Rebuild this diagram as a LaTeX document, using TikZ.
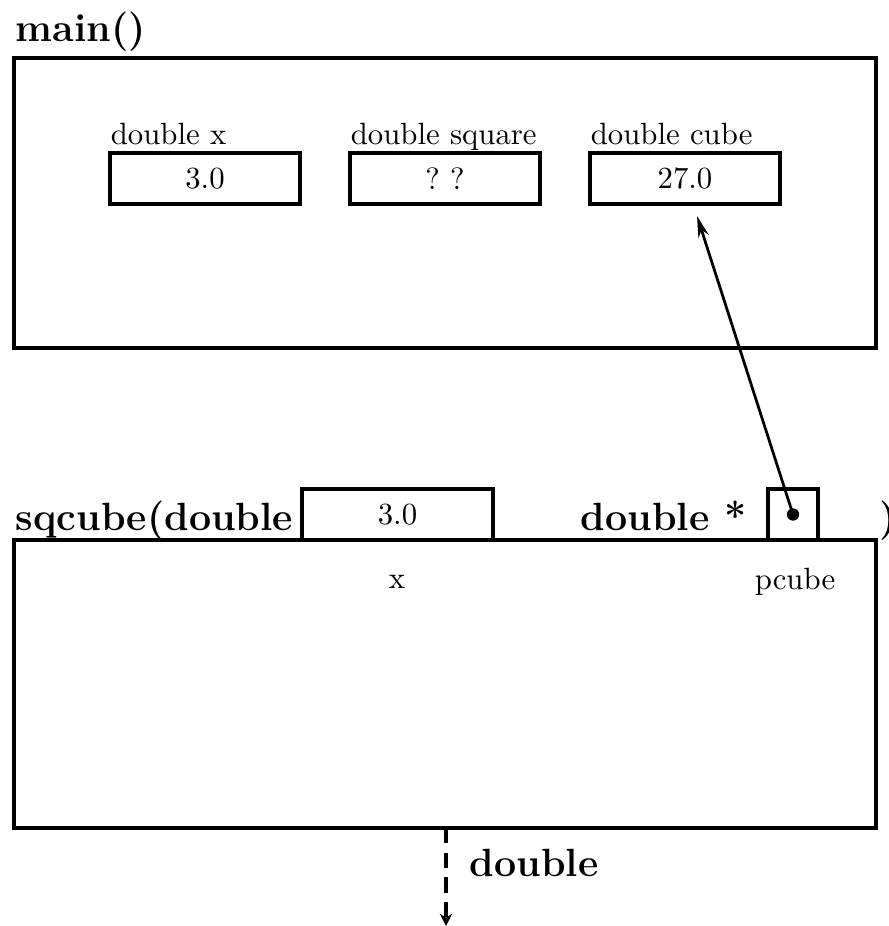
\documentclass[tikz,border=0pt]{standalone}
\usepackage{tikz}
\usetikzlibrary{arrows.meta}

\begin{document}
\begin{tikzpicture}[x=0.325pt, y=-0.325pt, line width=1.25pt,
    varbox/.style={draw, minimum width=62pt, minimum height=16.5pt, inner sep=0pt},
    ptrbox/.style={draw, minimum width=16pt, minimum height=16.5pt, inner sep=0pt},
    title/.style={font=\fontsize{12.8}{15}\selectfont\bfseries, anchor=base west, inner sep=0pt},
    vname/.style={anchor=base west, inner sep=0pt}] %%%{{{
	 \useasboundingbox (0,0) rectangle (888,926);
	 % the two frames
	 \coordinate (M1) at (14,58);
	 \coordinate (M2) at (876,348);
	 \coordinate (S1) at (14,540);
	 \coordinate (S2) at (876,828);
	 \draw (M1) rectangle (M2);
	 \draw (S1) rectangle (S2);
	 \node[title] (main) at (14,42) {main()};
	 % variables of main
	 \node[varbox] (x) at (205,178.5) {3.0};
	 \node[varbox] (square) at (445,178.5) {?\ ?};
	 \node[varbox] (cube) at (685,178.5) {27.0};
	 \foreach \v/\t in {x/double x, square/double square, cube/double cube}
	    \node[vname] (l\v) at ([shift={(0.4pt,2.2pt)}]\v.north west) {\t};
	 % call of sqcube
	 \node[title] (sq) at (14,530) {sqcube(double};
	 \node[varbox] (px) at (397.5,514.5) {3.0};
	 \node[title] (dstar) at (579,530) {double *};
	 \node[ptrbox] (pcube) at (793,514.5) {};
	 \node[title] (close) at (878,530) {)};
	 \node (nx) at (397,582) {x};
	 \node (npc) at (795,582) {pcube};
	 \fill (pcube.center) circle (2pt);
	 % pointer back to cube
	 \coordinate (tip) at (697,216);
	 \draw[-{Stealth[length=7pt, width=3.5pt]}, line width=0.9pt] (pcube.center) -- (tip);
	 % return value
	 \coordinate (R) at (446,828);
	 \coordinate (Rend) at (446,926);
	 \draw[dashed, dash pattern=on 5pt off 3pt, -{Stealth[length=4pt, width=4pt]}] (R) -- (Rend);
	 \node[title] (ret) at (468,876) {double};
      \end{tikzpicture}
\end{document}
